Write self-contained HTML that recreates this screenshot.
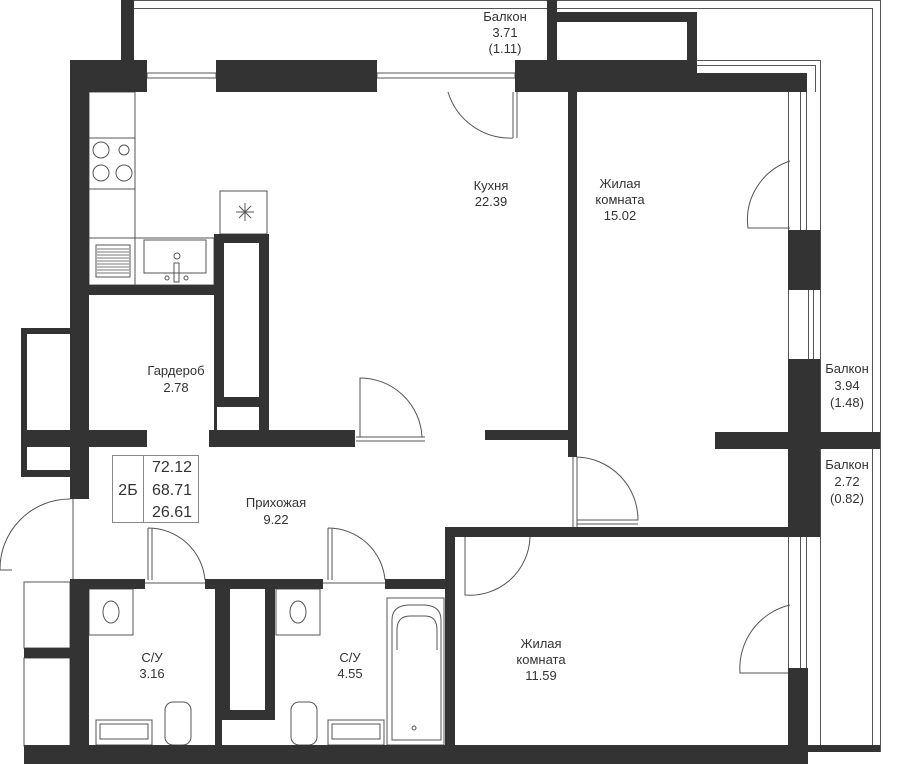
<!DOCTYPE html>
<html><head><meta charset="utf-8"><style>
html,body{margin:0;padding:0;background:#fff;}
svg{display:block;}
text{font-family:"Liberation Sans",sans-serif;fill:#333;font-size:13px;text-anchor:middle;}
</style></head><body>
<svg width="900" height="764" viewBox="0 0 900 764" xmlns="http://www.w3.org/2000/svg">
<g fill="none" stroke="#555" stroke-width="1">
<line x1="134" y1="0.5" x2="880" y2="0.5"/>
<line x1="134" y1="8.5" x2="547" y2="8.5"/>
<line x1="557" y1="8.5" x2="872" y2="8.5"/>
<line x1="872.5" y1="8" x2="872.5" y2="745"/>
<line x1="880.5" y1="0" x2="880.5" y2="752"/>
<line x1="697" y1="60.5" x2="820" y2="60.5"/>
<line x1="697" y1="65.5" x2="815" y2="65.5"/>
<line x1="820.5" y1="60" x2="820.5" y2="745"/>
<line x1="815.5" y1="65" x2="815.5" y2="92"/>
<rect x="147" y="73" width="69" height="5"/>
<rect x="377" y="73" width="138" height="5"/>
<line x1="788.5" y1="92" x2="788.5" y2="230"/>
<line x1="800.5" y1="92" x2="800.5" y2="230"/>
<line x1="806.5" y1="92" x2="806.5" y2="230"/>
<line x1="788.5" y1="290" x2="788.5" y2="359"/>
<line x1="808.5" y1="290" x2="808.5" y2="359"/>
<line x1="813.5" y1="290" x2="813.5" y2="359"/>
<line x1="788.5" y1="537" x2="788.5" y2="668"/>
<line x1="800.5" y1="537" x2="800.5" y2="668"/>
<line x1="806.5" y1="537" x2="806.5" y2="668"/>
<path d="M513 92 V138 M517 92 V138 M513 138 A65 65 0 0 1 448 92"/>
<path d="M790 161 A62 62 0 0 0 748 228 H790"/>
<path d="M360 437 V378 A62 62 0 0 1 422 437 M356 437 H425 M356 441 H425"/>
<path d="M573 457 V527 M577 457 V527 M577 457 A63 63 0 0 1 638 520 H577 M577 524 H638"/>
<path d="M465 537 V595 A60 60 0 0 0 530 537"/>
<path d="M790 605 A65 65 0 0 0 740 673 H790"/>
<path d="M70 499 A70 70 0 0 0 0 570 H12 M73 499 V580"/>
<path d="M148 528 V580 M152 528 V580 M148 528 A57 57 0 0 1 205 580 M145 583 H205"/>
<path d="M328 528 V580 M332 528 V580 M328 528 A57 57 0 0 1 385 580 M323 583 H385"/>
<rect x="89" y="92" width="46" height="193"/>
<line x1="89" y1="138" x2="135" y2="138"/>
<line x1="89" y1="189" x2="135" y2="189"/>
<line x1="89" y1="238" x2="135" y2="238"/>
<circle cx="101" cy="150" r="8"/><circle cx="124" cy="150" r="5"/>
<circle cx="101" cy="173" r="8"/><circle cx="124" cy="173" r="8"/>
<rect x="96" y="245" width="34" height="32"/>
<path d="M97 249 H129 M97 252 H129 M97 255 H129 M97 258 H129 M97 261 H129 M97 264 H129 M97 267 H129 M97 270 H129 M97 273 H129" stroke="#777"/>
<rect x="135" y="238" width="79" height="47"/>
<rect x="144" y="240" width="62" height="33"/>
<circle cx="177" cy="256" r="3"/><rect x="174" y="263" width="5" height="19"/>
<circle cx="167" cy="278" r="2"/><circle cx="186" cy="278" r="2"/>
<rect x="220" y="191" width="47" height="43"/>
<path d="M245 203 V221 M236 212 H254 M239 206 L251 218 M251 206 L239 218"/>
<rect x="89" y="589" width="44" height="46"/>
<ellipse cx="111" cy="612" rx="8" ry="11"/>
<rect x="96" y="720" width="56" height="25"/>
<rect x="100" y="724" width="48" height="15"/>
<rect x="165" y="702" width="26" height="43" rx="8"/>
<rect x="276" y="589" width="44" height="46"/>
<ellipse cx="298" cy="612" rx="8" ry="11"/>
<rect x="328" y="720" width="56" height="25"/>
<rect x="332" y="724" width="48" height="15"/>
<rect x="291" y="702" width="26" height="43" rx="8"/>
<rect x="387" y="598" width="57" height="147"/>
<path d="M392 740 V620 Q392 606 408 605 H425 Q441 606 441 620 V740 Z"/>
<path d="M397 650 V630 Q397 616 410 616 H425 Q437 616 437 630 V650"/>
<circle cx="414" cy="728" r="2"/>
<rect x="24" y="582" width="46" height="66"/>
<rect x="24" y="658" width="46" height="88"/>
<rect x="112.5" y="455.5" width="86" height="67" stroke="#888"/>
<line x1="143.5" y1="455" x2="143.5" y2="522" stroke="#888"/>
</g>
<g fill="#333">
<rect x="121" y="0" width="13" height="60"/>
<rect x="547" y="0" width="10" height="70"/>
<rect x="547" y="12" width="150" height="10"/>
<rect x="687" y="12" width="10" height="58"/>
<rect x="70" y="60" width="77" height="32"/>
<rect x="216" y="60" width="161" height="32"/>
<rect x="515" y="60" width="182" height="32"/>
<rect x="697" y="73" width="110" height="19"/>
<rect x="70" y="60" width="19" height="439"/>
<rect x="70" y="580" width="19" height="170"/>
<rect x="70" y="285" width="144" height="10"/>
<rect x="568" y="92" width="9" height="365"/>
<path d="M214 234 H269 V430 H259 V243 H224 V397 H259 V407 H214 Z"/>
<rect x="214" y="407" width="3" height="23"/>
<rect x="21" y="430" width="126" height="17"/>
<rect x="209" y="430" width="146" height="17"/>
<rect x="485" y="430" width="92" height="10"/>
<rect x="715" y="432" width="165" height="17"/>
<path d="M21 328 H70 V334 H27 V430 H21 Z"/>
<path d="M21 447 H27 V470 H70 V477 H21 Z"/>
<rect x="788" y="230" width="32" height="60"/>
<rect x="788" y="359" width="32" height="168"/>
<rect x="788" y="668" width="20" height="82"/>
<rect x="445" y="527" width="375" height="10"/>
<rect x="445" y="527" width="10" height="223"/>
<rect x="70" y="579" width="75" height="10"/>
<rect x="205" y="579" width="118" height="10"/>
<rect x="385" y="579" width="70" height="10"/>
<rect x="215" y="589" width="7" height="156"/>
<path d="M222 589 H275 V720 H222 Z M230 589 V710 H265 V589 Z" fill-rule="evenodd"/>
<rect x="24" y="648" width="46" height="10"/>
<rect x="24" y="745" width="784" height="19"/>
<rect x="808" y="745" width="72" height="7"/>
</g>
<text x="505" y="21">Балкон</text>
<text x="505" y="37">3.71</text>
<text x="505" y="53">(1.11)</text>
<text x="491" y="190">Кухня</text>
<text x="491" y="206">22.39</text>
<text x="620" y="188">Жилая</text>
<text x="620" y="204">комната</text>
<text x="620" y="220">15.02</text>
<text x="176" y="375">Гардероб</text>
<text x="176" y="392">2.78</text>
<text x="276" y="507">Прихожая</text>
<text x="276" y="524">9.22</text>
<text x="152" y="662">С/У</text>
<text x="152" y="678">3.16</text>
<text x="350" y="662">С/У</text>
<text x="350" y="678">4.55</text>
<text x="541" y="648">Жилая</text>
<text x="541" y="664">комната</text>
<text x="541" y="680">11.59</text>
<text x="847" y="373">Балкон</text>
<text x="847" y="390">3.94</text>
<text x="847" y="407">(1.48)</text>
<text x="847" y="469">Балкон</text>
<text x="847" y="486">2.72</text>
<text x="847" y="503">(0.82)</text>
<text x="128" y="495" style="font-size:16px">2Б</text>
<text x="172" y="472" style="font-size:16px">72.12</text>
<text x="172" y="495" style="font-size:16px">68.71</text>
<text x="172" y="517" style="font-size:16px">26.61</text>
</svg>
</body></html>
